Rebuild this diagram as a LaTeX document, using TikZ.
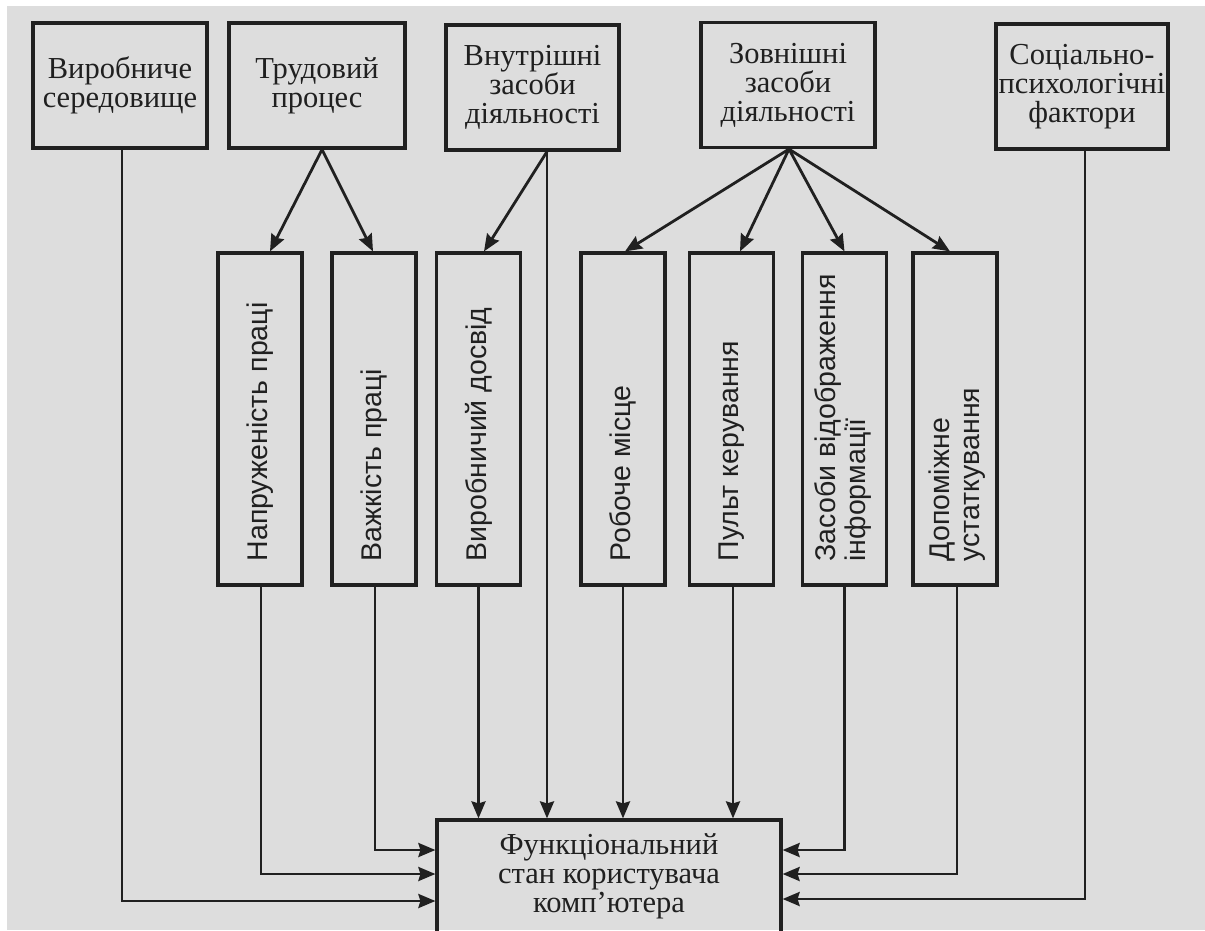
\documentclass[tikz,border=0pt]{standalone}
\usepackage{fontspec}
\newfontfamily\boxserif{Liberation Serif}
\newfontfamily\boxsans{Liberation Sans}
\usetikzlibrary{arrows.meta,calc}
\definecolor{paper}{RGB}{221,221,221}
\definecolor{ink}{RGB}{32,32,32}
\begin{document}
\begin{tikzpicture}[x=1pt,y=-1pt,
  topbox/.style={draw=ink,line width=3.2pt,inner sep=0pt,minimum height=125pt,align=center,
    font=\boxserif\fontsize{30.5}{29}\selectfont,text=ink},
  smallbox/.style={draw=ink,line width=3.2pt,minimum width=84pt,minimum height=332pt,inner sep=0pt},
  vtext/.style={rotate=90,anchor=west,inner sep=0pt,align=left,
    font=\boxsans\fontsize{28.5}{30}\selectfont,text=ink},
  btext/.style={inner sep=0pt,align=center,font=\boxserif\fontsize{30.5}{29}\selectfont,text=ink},
  conn/.style={draw=ink,line width=2.8pt},
  arr/.style={conn,-{Stealth[length=17pt,width=14pt,inset=2pt]}}]
\useasboundingbox (0,0) rectangle (1205,930);
\clip (0,0) rectangle (1205,930);
\fill[white] (0,0) rectangle (1205,930);
\fill[paper] (7,6) rectangle (1205,930);

% top boxes
\node[topbox,minimum width=174pt] (b1) at (120,85.5) {Виробниче\\середовище};
\node[topbox,minimum width=176pt] (b2) at (317,85.5) {Трудовий\\процес};
\node[topbox,minimum width=173pt] (b3) at (532.5,87.5) {Внутрішні\\засоби\\діяльності};
\node[topbox,minimum width=174pt] (b4) at (788,85) {Зовнішні\\засоби\\діяльності};
\node[topbox,minimum width=172pt] (b5) at (1082,86.5) {Соціально-\\психологічні\\фактори};

% small boxes
\node[smallbox] (s1) at (260,419) {};
\node[smallbox] (s2) at (374,419) {};
\node[smallbox] (s3) at (478.5,419) {};
\node[smallbox] (s4) at (623,419) {};
\node[smallbox] (s5) at (731.5,419) {};
\node[smallbox] (s6) at (844.5,419) {};
\node[smallbox] (s7) at (955,419) {};

\node[vtext] (t1) at ([yshift=25pt]s1.south) {Напруженість праці};
\node[vtext] (t2) at ([yshift=25pt]s2.south) {Важкість праці};
\node[vtext] (t3) at ([yshift=25pt]s3.south) {Виробничий досвід};
\node[vtext] (t4) at ([yshift=25pt]s4.south) {Робоче місце};
\node[vtext] (t5) at ([yshift=25pt]s5.south) {Пульт керування};
\node[vtext] (t6) at ([yshift=25pt,xshift=-2pt]s6.south) {Засоби відображення\\інформації};
\node[vtext] (t7) at ([yshift=25pt,xshift=2pt]s7.south) {Допоміжне\\устаткування};

% bottom box
\node[draw=ink,line width=3.2pt,minimum width=344pt,minimum height=115pt,inner sep=0pt] (f) at (609,877.5) {};
\node[btext] (ft) at (609,876) {Функціональний\\стан користувача\\комп’ютера};

% arrows from top boxes to small boxes
\draw[arr] ([xshift=5pt]b2.south) -- ([xshift=10pt]s1.north);
\draw[arr] ([xshift=5pt]b2.south) -- ([xshift=-1pt]s2.north);
\draw[arr] ([xshift=14.5pt]b3.south) -- ([xshift=5.5pt]s3.north);
\draw[arr] ([xshift=1pt]b4.south) -- ([xshift=2pt]s4.north);
\draw[arr] ([xshift=1pt]b4.south) -- ([xshift=8.5pt]s5.north);
\draw[arr] ([xshift=1pt]b4.south) -- (s6.north);
\draw[arr] ([xshift=1pt]b4.south) -- ([xshift=-5pt]s7.north);

% into the bottom box from above
\draw[arr] (s3.south) -- (s3.south |- f.north);
\draw[arr] ([xshift=14.5pt]b3.south) -- ([xshift=14.5pt]b3.south |- f.north);
\draw[arr] (s4.south) -- (s4.south |- f.north);
\draw[arr] ([xshift=1.5pt]s5.south) -- ([xshift=1.5pt]s5.south |- f.north);

% into the bottom box from the left
\draw[arr] ([xshift=1pt]s2.south) |- ([yshift=27.5pt]f.west);
\draw[arr] ([xshift=1pt]s1.south) |- ([yshift=3.5pt]f.west);
\draw[arr] ([xshift=2pt]b1.south) |- ([yshift=-23.5pt]f.west);

% into the bottom box from the right
\draw[arr] (s6.south) |- ([yshift=27.5pt]f.east);
\draw[arr] ([xshift=2pt]s7.south) |- ([yshift=3.5pt]f.east);
\draw[arr] ([xshift=3pt]b5.south) |- ([yshift=-21.5pt]f.east);
\end{tikzpicture}
\end{document}
